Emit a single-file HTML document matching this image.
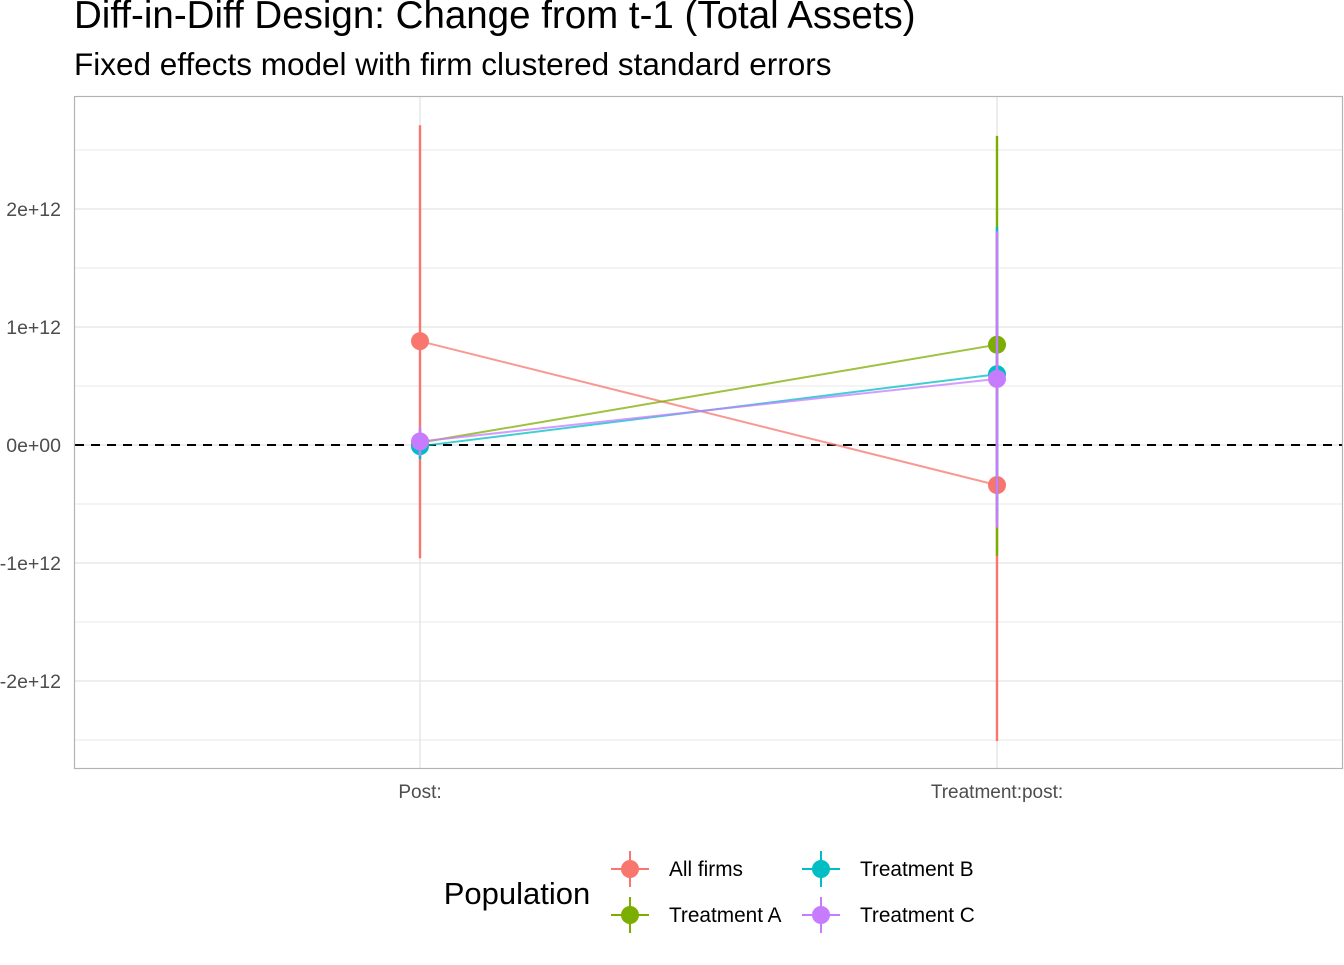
<!DOCTYPE html>
<html><head><meta charset="utf-8"><style>
body{margin:0;background:#fff;font-family:"Liberation Sans",sans-serif}
</style></head><body>
<svg id="c" width="1344" height="960" xmlns="http://www.w3.org/2000/svg">
<text x="74" y="28" font-size="38.5" fill="#000">Diff-in-Diff Design: Change from t-1 (Total Assets)</text>
<text x="74" y="75" font-size="31.5" fill="#000">Fixed effects model with firm clustered standard errors</text>
<g id="grid"></g>
<g id="marks"></g>
<rect x="74.5" y="96.5" width="1268" height="672" fill="none" stroke="#b3b3b3" stroke-width="1.2"/>
<text x="517" y="904" font-size="31" text-anchor="middle">Population</text>
<g id="legend"></g>
</svg>
<script>
const categories=["Post:","Treatment:post:"];
const seriesNames=["All firms","Treatment A","Treatment B","Treatment C"];
const colors=["#F8766D","#7CAE00","#00BFC4","#C77CFF"];
const estimates=[[0.88,-0.34],[0.02,0.85],[-0.01,0.60],[0.03,0.56]];
const lowers=[[-0.96,-2.51],[-0.1,-0.94],[-0.12,-0.65],[-0.09,-0.70]];
const uppers=[[2.71,1.8],[0.14,2.62],[0.1,1.85],[0.15,1.81]];
const yTicks=[-2,-1,0,1,2];
const yTickLabels=["-2e+12","-1e+12","0e+00","1e+12","2e+12"];
const NS="http://www.w3.org/2000/svg";
const y=v=>445-v*118;
const x=i=>420+i*577;
function mk(t,a,p){const e=document.createElementNS(NS,t);for(const k in a)e.setAttribute(k,a[k]);p.appendChild(e);return e;}
const grid=document.getElementById('grid'),marks=document.getElementById('marks'),leg=document.getElementById('legend');
for(let v=-2.5;v<=2.51;v+=0.5){
 const major=Math.abs(v-Math.round(v))<1e-6;
 const l=mk('line',{x1:75,x2:1342,y1:y(v),y2:y(v),stroke:'#e3e3e3','stroke-width':major?1.3:0.8},grid);
 
 
}
categories.forEach((c,i)=>{
 const l=mk('line',{x1:x(i),x2:x(i),y1:97,y2:768,stroke:'#e3e3e3','stroke-width':1.3},grid);
 
 
 const t=mk('text',{x:x(i),y:798,'font-size':19,fill:'#4d4d4d','text-anchor':'middle'},grid);t.textContent=c;
 
 
});
yTicks.forEach((v,i)=>{
 const t=mk('text',{x:61,y:y(v)+7,'font-size':19.5,fill:'#4d4d4d','text-anchor':'end'},grid);t.textContent=yTickLabels[i];
 
 
});
const z=mk('line',{x1:75,x2:1342,y1:y(0),y2:y(0),stroke:'#000','stroke-width':2,'stroke-dasharray':'9,7'},grid);


estimates.forEach((s,k)=>{
 const l=mk('line',{x1:x(0),y1:y(s[0]),x2:x(1),y2:y(s[1]),stroke:colors[k],'stroke-width':2,opacity:0.75},marks);
 
 
});
estimates.forEach((s,k)=>{
 s.forEach((v,i)=>{
  const b=mk('line',{x1:x(i),x2:x(i),y1:y(uppers[k][i]),y2:y(lowers[k][i]),stroke:colors[k],'stroke-width':2.4},marks);
  
  
  const p=mk('circle',{cx:x(i),cy:y(v),r:9,fill:colors[k]},marks);
  
  
 });
});
const lpos=[[630,869],[630,915],[821,869],[821,915]];
seriesNames.forEach((n,k)=>{
 const [lx,ly]=lpos[k];
 const g=mk('g',{},leg);
 
 
 mk('line',{x1:lx-19,x2:lx+19,y1:ly,y2:ly,stroke:colors[k],'stroke-width':2},g);
 mk('line',{x1:lx,x2:lx,y1:ly-18,y2:ly+18,stroke:colors[k],'stroke-width':2},g);
 mk('circle',{cx:lx,cy:ly,r:9,fill:colors[k]},g);
 const t=mk('text',{x:lx+39,y:ly+7,'font-size':20.8},g);t.textContent=n;
});
</script>
</body></html>
